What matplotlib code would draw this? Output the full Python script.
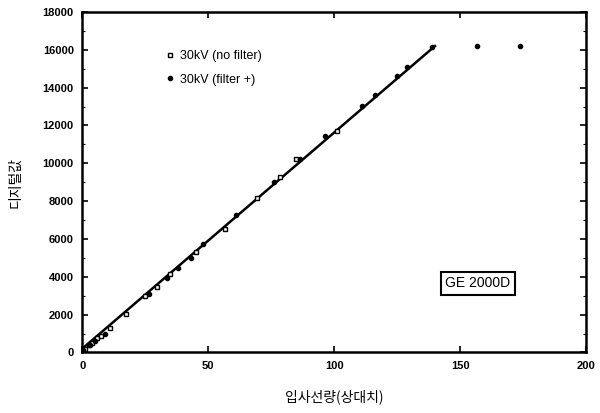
import matplotlib
matplotlib.use('Agg')
import matplotlib.pyplot as plt

plt.rcParams['font.family'] = ['Liberation Sans', 'Noto Sans CJK KR', 'DejaVu Sans']

# 30kV (no filter) - hollow squares
nf_x = [1, 2.5, 4, 6, 7.5, 11, 17.5, 25, 29.7, 35, 45, 56.6, 69.5, 78.5, 85, 101]
nf_y = [210, 370, 520, 740, 850, 1320, 2060, 3000, 3470, 4150, 5300, 6550, 8170, 9270, 10210, 11720]

# 30kV (filter +) - filled dots
f_x = [0.5, 3, 5, 9, 26.5, 33.5, 38, 43, 48, 61, 76, 86.3, 96.5, 111, 116, 125, 129, 139, 156.6, 173.8]
f_y = [150, 400, 600, 1000, 3100, 3940, 4460, 4990, 5720, 7280, 9010, 10210, 11460, 13030, 13600,
       14590, 15070, 16160, 16210, 16210]

# fitted line
fit_x = [0, 140]
fit_y = [200, 16200]

fig = plt.figure(figsize=(6, 4.13), dpi=100)
ax = fig.add_axes([0.137, 0.1465, 0.840, 0.8245])

ax.plot(fit_x, fit_y, color='black', lw=1.8, zorder=2)
ax.plot(nf_x, nf_y, ls='none', marker='s', ms=3.3, mfc='white', mec='black', mew=1.0,
        label='30kV (no filter)', zorder=3)
ax.plot(f_x, f_y, ls='none', marker='o', ms=3.0, color='black', label='30kV (filter +)', zorder=3)

ax.set_xlim(0, 200)
ax.set_ylim(0, 18000)
ax.set_xticks([0, 50, 100, 150, 200])
ax.set_yticks(range(0, 18001, 2000))
ax.set_yticks(range(0, 18001, 1000), minor=True)
ax.tick_params(axis='both', which='major', direction='in', top=True, right=True,
               length=4, width=1.2, labelsize=8, pad=6)
ax.tick_params(axis='both', which='minor', direction='in', right=True, length=2, width=0.8)
for lab in ax.get_xticklabels() + ax.get_yticklabels():
    lab.set_fontweight('bold')
for sp in ax.spines.values():
    sp.set_linewidth(1.8)

ax.set_xlabel('입사선량(상대치)', fontsize=10, family=['Noto Sans CJK KR', 'DejaVu Sans'], labelpad=13)
ax.set_ylabel('디지털값', fontsize=10, family=['Noto Sans CJK KR', 'DejaVu Sans'], labelpad=15)

ax.legend(loc='upper left', bbox_to_anchor=(0.14, 0.92), frameon=False, fontsize=9,
          handletextpad=0.3, handlelength=1.0, labelspacing=0.9)

ax.text(157, 3650, 'GE 2000D', fontsize=10, ha='center', va='center',
        bbox=dict(boxstyle='square,pad=0.3', fc='white', ec='black', lw=1.5))

fig.savefig('out.png', dpi=100)
